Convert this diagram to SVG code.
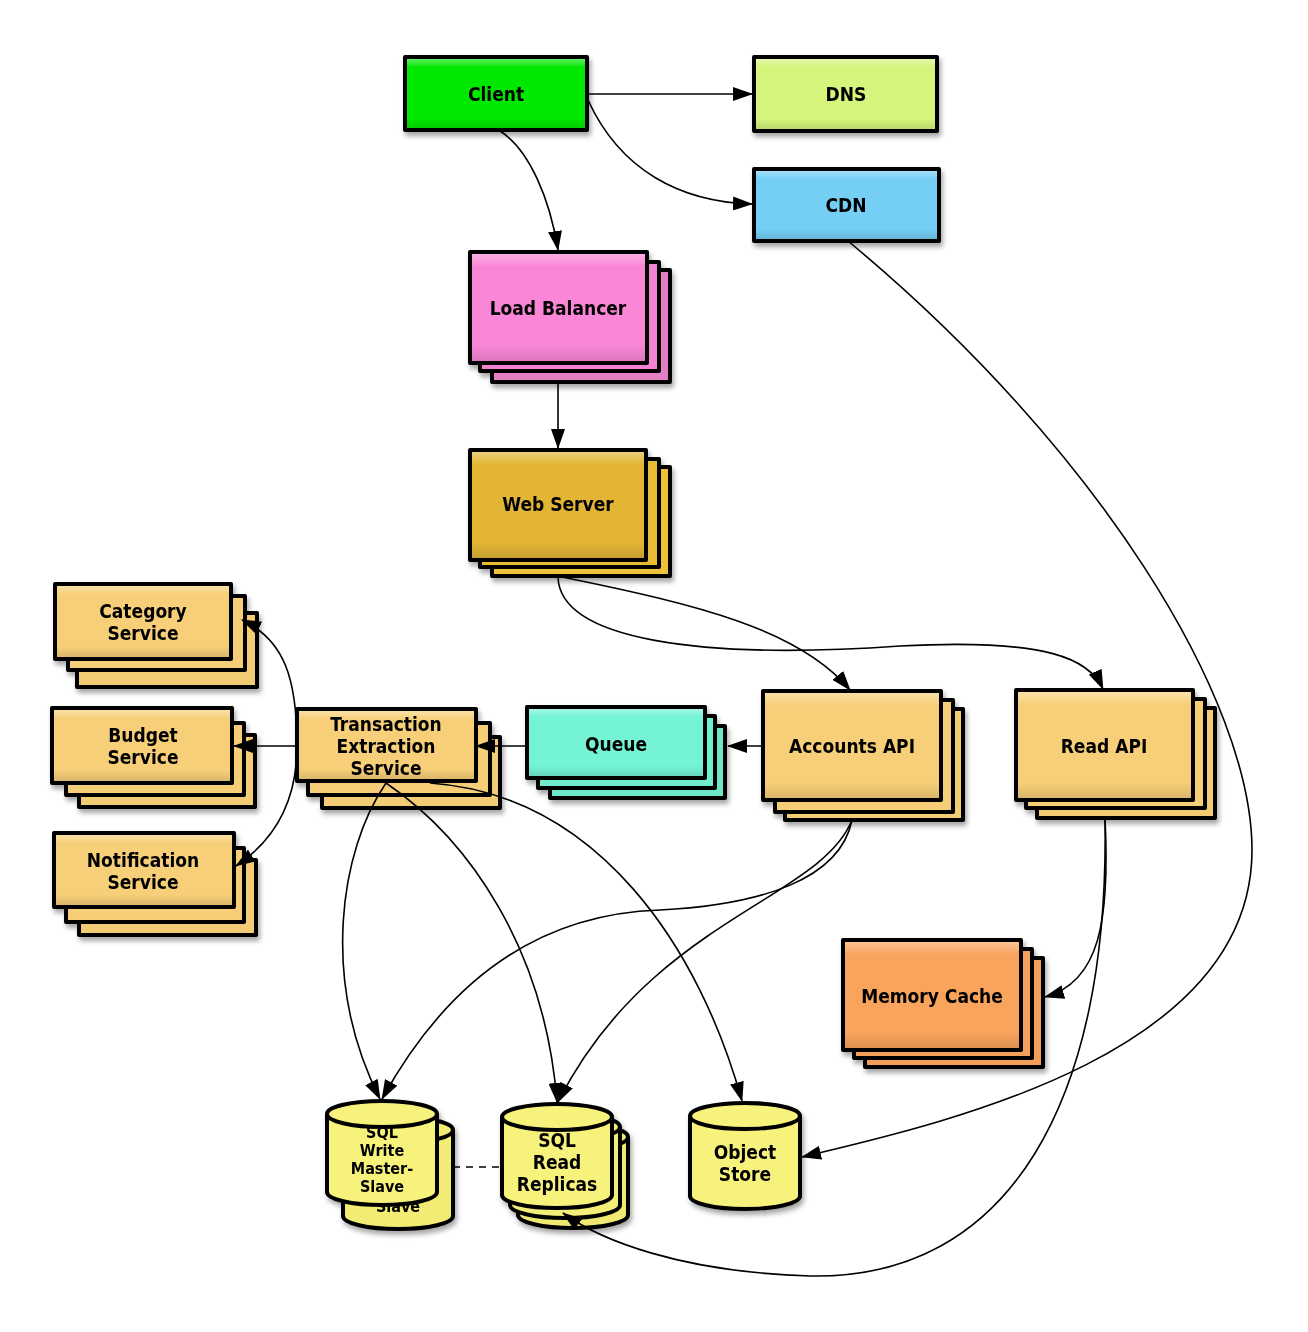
<svg xmlns="http://www.w3.org/2000/svg" width="1308" height="1332" viewBox="0 0 1308 1332">
<style>
.b{stroke:#000;stroke-width:4;stroke-linejoin:round}
.t{font-family:"Liberation Sans Narrow","DejaVu Sans Condensed","Liberation Sans",sans-serif;font-weight:bold;font-size:19px;text-anchor:middle;fill:#000}
.ts{font-size:16px}
.c{fill:none;stroke:#000;stroke-width:1.6}
.g{fill:url(#sheen)}
</style>
<defs>
<filter id="sh" x="-10%" y="-10%" width="130%" height="140%"><feDropShadow dx="2" dy="4" stdDeviation="2.5" flood-color="#000" flood-opacity="0.35"/></filter>
<linearGradient id="sheen" x1="0" y1="0" x2="0" y2="1"><stop offset="0" stop-color="#fff" stop-opacity="0.35"/><stop offset="0.12" stop-color="#fff" stop-opacity="0"/><stop offset="0.85" stop-color="#000" stop-opacity="0"/><stop offset="1" stop-color="#000" stop-opacity="0.12"/></linearGradient>
<marker id="ar" viewBox="0 0 20 14" refX="19" refY="7" markerWidth="20" markerHeight="14" markerUnits="userSpaceOnUse" orient="auto"><path d="M0,0 L20,7 L0,14 z" fill="#000"/></marker>
</defs>

<g id="client" filter="url(#sh)">
<rect class="b" x="405" y="57" width="182" height="73" fill="#06e806"/><rect x="407" y="59" width="178" height="69" class="g"/>
<text class="t" x="496" y="101">Client</text>
</g>
<g id="dns" filter="url(#sh)">
<rect class="b" x="754" y="57" width="183" height="74" fill="#d5f57b"/><rect x="756" y="59" width="179" height="70" class="g"/>
<text class="t" x="846" y="101">DNS</text>
</g>
<g id="cdn" filter="url(#sh)">
<rect class="b" x="754" y="169" width="185" height="72" fill="#74cff5"/><rect x="756" y="171" width="181" height="68" class="g"/>
<text class="t" x="846" y="212">CDN</text>
</g>

<g id="load-balancer" filter="url(#sh)">
<rect class="b" x="492" y="270" width="178" height="112" fill="#e57fc4"/>
<rect class="b" x="480" y="262" width="179" height="109" fill="#f282d2"/>
<rect class="b" x="470" y="252" width="177" height="111" fill="#f986d6"/><rect x="472" y="254" width="173" height="107" class="g"/>
<text class="t" x="558" y="315">Load Balancer</text>
</g>
<g id="web-server" filter="url(#sh)">
<rect class="b" x="492" y="467" width="178" height="109" fill="#f0c23a"/>
<rect class="b" x="480" y="459" width="179" height="108" fill="#e9bb36"/>
<rect class="b" x="470" y="450" width="176" height="110" fill="#e2b534"/><rect x="472" y="452" width="172" height="106" class="g"/>
<text class="t" x="558" y="511">Web Server</text>
</g>

<g id="category-service" filter="url(#sh)">
<rect class="b" x="77" y="613" width="180" height="74" fill="#f3cc76"/>
<rect class="b" x="68" y="596" width="177" height="74" fill="#f5ce77"/>
<rect class="b" x="55" y="584" width="176" height="75" fill="#f7cf78"/><rect x="57" y="586" width="172" height="71" class="g"/>
<text class="t" x="143" y="618">Category</text><text class="t" x="143" y="640">Service</text>
</g>
<g id="budget-service" filter="url(#sh)">
<rect class="b" x="79" y="735" width="176" height="72" fill="#f3cc76"/>
<rect class="b" x="66" y="723" width="178" height="72" fill="#f5ce77"/>
<rect class="b" x="52" y="708" width="180" height="75" fill="#f7cf78"/><rect x="54" y="710" width="176" height="71" class="g"/>
<text class="t" x="143" y="742">Budget</text><text class="t" x="143" y="764">Service</text>
</g>
<g id="notification-service" filter="url(#sh)">
<rect class="b" x="79" y="860" width="177" height="75" fill="#f3cc76"/>
<rect class="b" x="66" y="848" width="178" height="74" fill="#f5ce77"/>
<rect class="b" x="54" y="833" width="180" height="74" fill="#f7cf78"/><rect x="56" y="835" width="176" height="70" class="g"/>
<text class="t" x="143" y="867">Notification</text><text class="t" x="143" y="889">Service</text>
</g>
<g id="transaction-extraction-service" filter="url(#sh)">
<rect class="b" x="322" y="737" width="178" height="71" fill="#f3cc76"/>
<rect class="b" x="308" y="723" width="182" height="72" fill="#f5ce77"/>
<rect class="b" x="297" y="709" width="179" height="72" fill="#f7cf78"/><rect x="299" y="711" width="175" height="68" class="g"/>
<text class="t" x="386" y="731">Transaction</text><text class="t" x="386" y="753">Extraction</text><text class="t" x="386" y="775">Service</text>
</g>
<g id="queue" filter="url(#sh)">
<rect class="b" x="550" y="726" width="175" height="72" fill="#6ee6c8"/>
<rect class="b" x="538" y="716" width="177" height="72" fill="#71edcf"/>
<rect class="b" x="527" y="707" width="178" height="71" fill="#74f3d5"/><rect x="529" y="709" width="174" height="67" class="g"/>
<text class="t" x="616" y="751">Queue</text>
</g>
<g id="accounts-api" filter="url(#sh)">
<rect class="b" x="785" y="709" width="178" height="111" fill="#f3cc76"/>
<rect class="b" x="775" y="700" width="178" height="112" fill="#f5ce77"/>
<rect class="b" x="763" y="691" width="178" height="109" fill="#f7cf78"/><rect x="765" y="693" width="174" height="105" class="g"/>
<text class="t" x="852" y="753">Accounts API</text>
</g>
<g id="read-api" filter="url(#sh)">
<rect class="b" x="1037" y="708" width="178" height="110" fill="#f3cc76"/>
<rect class="b" x="1026" y="699" width="179" height="109" fill="#f5ce77"/>
<rect class="b" x="1016" y="690" width="177" height="110" fill="#f7cf78"/><rect x="1018" y="692" width="173" height="106" class="g"/>
<text class="t" x="1104" y="753">Read API</text>
</g>
<g id="memory-cache" filter="url(#sh)">
<rect class="b" x="865" y="958" width="178" height="109" fill="#f39e58"/>
<rect class="b" x="854" y="949" width="178" height="109" fill="#f6a15a"/>
<rect class="b" x="843" y="940" width="178" height="110" fill="#f9a45c"/><rect x="845" y="942" width="174" height="106" class="g"/>
<text class="t" x="932" y="1003">Memory Cache</text>
</g>

<g id="sql-write" filter="url(#sh)">
<path class="b" fill="#f2ec74" d="M343,1130 V1216 A55,13 0 0 0 453,1216 V1130"/>
<ellipse class="b" cx="398" cy="1130" rx="55" ry="13" fill="#f2ec74"/>
<text class="t ts" x="398" y="1212">Slave</text>
<path class="b" fill="#f7f27c" d="M327,1114 V1192 A55,13 0 0 0 437,1192 V1114"/>
<ellipse class="b" cx="382" cy="1114" rx="55" ry="13" fill="#f7f27c"/>
<text class="t ts" x="382" y="1138">SQL</text><text class="t ts" x="382" y="1156">Write</text><text class="t ts" x="382" y="1174">Master-</text><text class="t ts" x="382" y="1192">Slave</text>
</g>
<g id="sql-read-replicas" filter="url(#sh)">
<path class="b" fill="#efe972" d="M518,1137 V1215 A55,13 0 0 0 628,1215 V1137"/>
<ellipse class="b" cx="573" cy="1137" rx="55" ry="13" fill="#efe972"/>
<path class="b" fill="#f3ee77" d="M510,1127 V1205 A55,13 0 0 0 620,1205 V1127"/>
<ellipse class="b" cx="565" cy="1127" rx="55" ry="13" fill="#f3ee77"/>
<path class="b" fill="#f7f27c" d="M502,1117 V1195 A55,13 0 0 0 612,1195 V1117"/>
<ellipse class="b" cx="557" cy="1117" rx="55" ry="13" fill="#f7f27c"/>
<text class="t" x="557" y="1147">SQL</text><text class="t" x="557" y="1169">Read</text><text class="t" x="557" y="1191">Replicas</text>
</g>
<g id="object-store" filter="url(#sh)">
<path class="b" fill="#f7f27c" d="M690,1116 V1196 A55,13 0 0 0 800,1196 V1116"/>
<ellipse class="b" cx="745" cy="1116" rx="55" ry="13" fill="#f7f27c"/>
<text class="t" x="745" y="1159">Object</text><text class="t" x="745" y="1181">Store</text>
</g>

<g id="connectors">
<path class="c" marker-end="url(#ar)" d="M588,94 L752,94"/>
<path class="c" marker-end="url(#ar)" d="M588,100 C620,170 680,202 752,204"/>
<path class="c" marker-end="url(#ar)" d="M500,131 C530,150 550,200 558,250"/>
<path class="c" marker-end="url(#ar)" d="M558,383 L558,448"/>
<path class="c" marker-end="url(#ar)" d="M562,577 C700,605 800,630 850,690"/>
<path class="c" marker-end="url(#ar)" d="M558,577 C560,640 700,660 900,646 C1050,638 1090,660 1103,689"/>
<path class="c" marker-end="url(#ar)" d="M763,746 L728,746"/>
<path class="c" marker-end="url(#ar)" d="M527,746 L476,746"/>
<path class="c" marker-end="url(#ar)" d="M297,746 L234,746"/>
<path class="c" marker-end="url(#ar)" d="M297,746 C297,680 285,640 242,620"/>
<path class="c" marker-end="url(#ar)" d="M297,746 C297,800 275,840 236,866"/>
<path class="c" marker-end="url(#ar)" d="M386,783 C340,850 320,980 380,1099"/>
<path class="c" marker-end="url(#ar)" d="M386,783 C470,840 545,950 557,1102"/>
<path class="c" marker-end="url(#ar)" d="M430,783 C600,795 700,950 742,1101"/>
<path class="c" marker-end="url(#ar)" d="M852,820 C840,880 760,905 660,910 C500,915 420,1030 382,1099"/>
<path class="c" marker-end="url(#ar)" d="M852,820 C820,900 650,920 558,1102"/>
<path class="c" marker-end="url(#ar)" d="M1105,818 C1110,920 1100,982 1045,997"/>
<path class="c" marker-end="url(#ar)" d="M1105,818 C1110,1100 1010,1280 810,1276 C680,1272 600,1240 563,1213"/>
<path class="c" marker-end="url(#ar)" d="M848,241 C1100,450 1252,700 1252,850 C1252,1050 960,1120 802,1157"/>
<path class="c" stroke-dasharray="7,6" d="M453,1167 L502,1167"/>
</g>
</svg>
